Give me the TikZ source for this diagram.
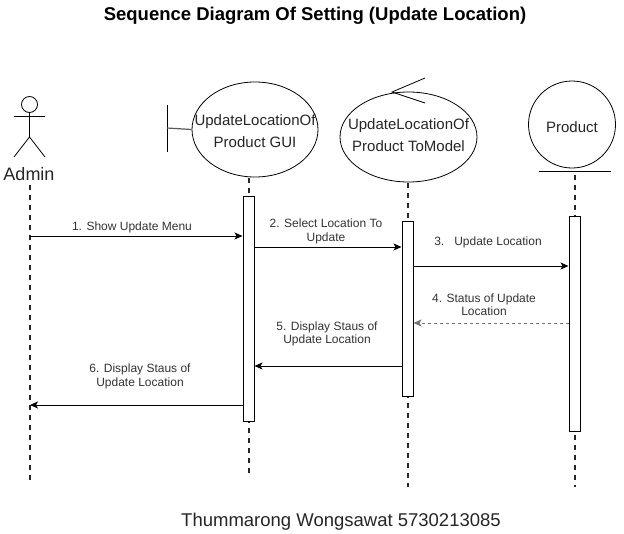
\documentclass[tikz,border=0pt]{standalone}
\usepackage{fontspec}
\setmainfont{Liberation Sans}
\usetikzlibrary{arrows.meta,shapes.geometric}
\begin{document}
\begin{tikzpicture}[x=1pt,y=-1pt,
 lifeline/.style={line width=1.5pt, dash pattern=on 5pt off 5pt, black!85},
 act/.style={draw, fill=white, line width=1pt, minimum width=11pt, inner sep=0pt},
 msg/.style={-{Stealth[length=8pt,width=7pt,inset=2pt]}, line width=1pt},
 ret/.style={msg, dash pattern=on 3pt off 3pt, draw=gray!90!black},
 lbl/.style={font=\fontsize{12}{13.5}\selectfont, align=center, text=black!80},
 head/.style={font=\fontsize{15}{22}\selectfont, align=center, text=black!85},
 shp/.style={draw, line width=0.8pt, inner sep=0pt},
]
\useasboundingbox[fill=white] (0,0) rectangle (624,533);

% title
\node[font=\bfseries\fontsize{18.5}{20}\selectfont] (title) at (315,16) {Sequence Diagram Of Setting (Update Location)};

% Admin actor
\node[shp, circle, minimum size=16pt] (ahead) at (29.5,104.5) {};
\coordinate (ahip) at (29.5,137);
\draw[line width=0.8pt] (ahead.south) -- (ahip);
\draw[line width=0.8pt] (14,116) -- (45,116);
\draw[line width=0.8pt] (14,157) -- (ahip) -- (45,157);
\node[font=\fontsize{18}{20}\selectfont, text=black!85] (admin) at (29,174) {Admin};

% Boundary GUI
\node[shp, ellipse, minimum width=126pt, minimum height=95pt] (gui) at (255,129.5) {};
\node[head] (guit) at (255,131) {UpdateLocationOf\\Product GUI};
\coordinate (bnd) at (167,128);
\draw[line width=0.8pt] (167,105) -- (167,152);
\draw[line width=1.2pt, gray!70!black] (bnd) -- (gui.west);

% Control ToModel
\node[shp, ellipse, minimum width=137pt, minimum height=90pt] (ctrl) at (408.5,137) {};
\node[head] (ctrlt) at (408.5,135) {UpdateLocationOf\\Product ToModel};
\coordinate (ctip) at (392,92);
\draw[line width=0.8pt] (425,78) -- (ctip) -- (425,103);

% Entity Product
\node[shp, circle, minimum size=87pt] (prod) at (572,124.5) {};
\node[head] (prodt) at (572,127) {Product};
\draw[line width=0.8pt] (539,171) -- (611,171);

% lifelines
\coordinate (l0s) at (30,185);   \coordinate (l0e) at (30,480);
\coordinate (l1s) at (249,178);  \coordinate (l1e) at (249,476);
\coordinate (l2s) at (408,183);  \coordinate (l2e) at (408,487);
\coordinate (l3s) at (575,175);  \coordinate (l3e) at (575,487);
\draw[lifeline] (l0s) -- (l0e);
\draw[lifeline] (l1s) -- (l1e);
\draw[lifeline] (l2s) -- (l2e);
\draw[lifeline] (l3s) -- (l3e);

% activation boxes
\node[act, minimum height=225pt] (a1) at (248.5,308.5) {};
\node[act, minimum height=175pt] (a2) at (407.5,308.5) {};
\node[act, minimum height=215pt] (a3) at (574.5,323.5) {};

% messages
\coordinate (m1) at (30,236);
\draw[msg] (m1) -- (m1 -| a1.west);
\node[lbl] (t1) at (132,227) {1. Show Update Menu};

\coordinate (m2) at (254,247);
\draw[msg] (m2 -| a1.east) -- (m2 -| a2.west);
\node[lbl] (t2) at (326,231.5) {2. Select Location To\\Update};

\coordinate (m3) at (413,266);
\draw[msg] (m3 -| a2.east) -- (m3 -| a3.west);
\node[lbl] (t3) at (488,242) {3.\ \ \ Update Location};

\coordinate (m4) at (569,323);
\draw[ret] (m4 -| a3.west) -- (m4 -| a2.east);
\node[lbl] (t4) at (484,304.5) {4. Status of Update\\Location};

\coordinate (m5) at (402,366);
\draw[msg] (m5 -| a2.west) -- (m5 -| a1.east);
\node[lbl] (t5) at (327,334) {5. Display Staus of\\Update Location};

\coordinate (m6) at (30,405);
\draw[msg] (m6 -| a1.west) -- (m6);
\node[lbl] (t6) at (140,376.5) {6. Display Staus of\\Update Location};

% footer
\node[font=\fontsize{18.5}{20}\selectfont, text=black!85] (foot) at (341,522) {Thummarong Wongsawat 5730213085};
\end{tikzpicture}
\end{document}
